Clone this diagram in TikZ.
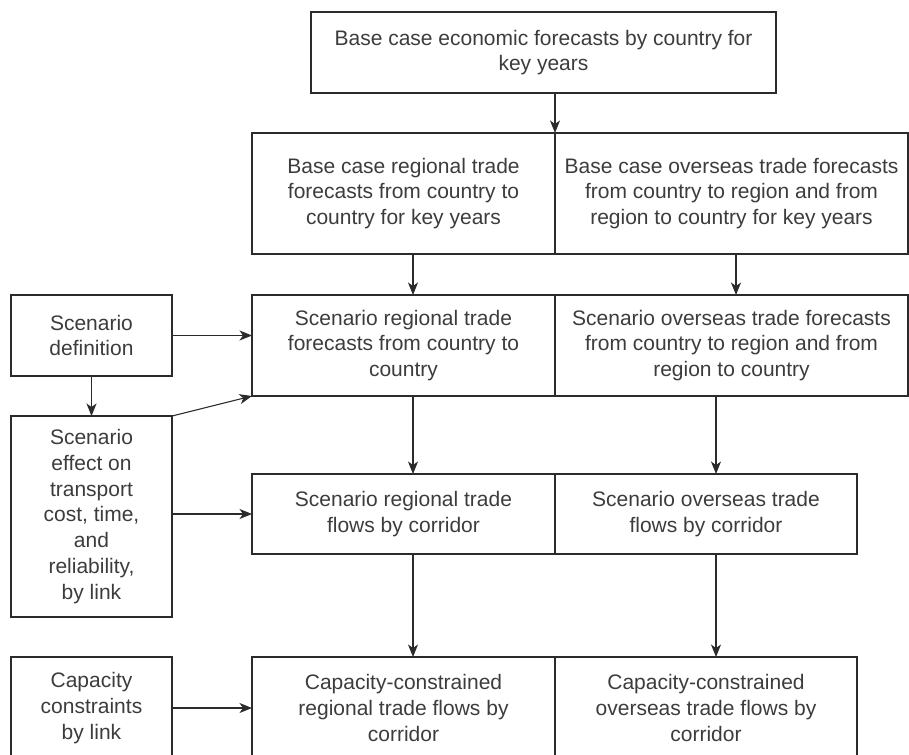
\documentclass[tikz,border=0pt]{standalone}
\usepackage{fontspec}
\setmainfont{Liberation Sans}
\usepackage{tikz}
\usetikzlibrary{arrows.meta,positioning,calc}

\definecolor{boxline}{HTML}{2B2B2B}
\definecolor{boxtext}{HTML}{3C3C3C}

\begin{document}
\begin{tikzpicture}
	[
	 x = 1pt,
	 y = -1pt,
	 every node/.style = {shape=rectangle,
		                  draw = boxline,
		                  line width = 1.1pt,
		                  align=center,
		                  text = boxtext,
		                  font=\fontsize{21}{25.7}\selectfont,
		                  inner sep = 0pt,
		                  outer sep = 0pt
                         },
    TOP/.style  = {minimum width = 465pt, minimum height = 81pt},
    MID/.style  = {minimum width = 303pt},
    WIDE/.style = {minimum width = 353pt},
    NARR/.style = {minimum width = 302pt},
    SIDE/.style = {minimum width = 161pt},
    FL/.style   = {-{Stealth[length=12.5pt,width=10pt,inset=3.5pt]},
    	           draw = boxline,
    	           line width = 1.1pt}
	]
	
	\newcommand{\BCE}{Base case economic forecasts by country for\\ key years}
	\newcommand{\BCR}{Base case regional trade\\ forecasts from country to\\
		country for key years}
	\newcommand{\BCO}{Base case overseas trade forecasts\\ from country to
		region and from\\ region to country for key years}
	\newcommand{\SCR}{Scenario regional trade\\ forecasts from country to\\
		country}
	\newcommand{\SCO}{Scenario overseas trade forecasts\\ from country to
		region and from\\ region to country}
	\newcommand{\SDEF}{Scenario\\ definition}
	\newcommand{\SEFF}{Scenario\\ effect on\\ transport\\ cost, time,\\ and\\
		reliability,\\ by link}
	\newcommand{\SFR}{Scenario regional trade\\ flows by corridor}
	\newcommand{\SFO}{Scenario overseas trade\\ flows by corridor}
	\newcommand{\CBL}{Capacity\\ constraints\\ by link}
	\newcommand{\CCR}{Capacity-constrained\\ regional trade flows by\\ corridor}
	\newcommand{\CCO}{Capacity-constrained\\ overseas trade flows by\\ corridor}

	\useasboundingbox (0,0) rectangle (909,754);
	\clip (0,0) rectangle (909,754);

	\node [TOP]                             (BE) at (543.5,52.5) {\BCE};
	\node [MID,  minimum height = 121pt]    (BR) at (403.5,193.5) {\BCR};
	\node [WIDE, minimum height = 121pt]    (BO) at (731.5,193.5) {\BCO};
	\node [MID,  minimum height = 101pt]    (SR) at (403.5,345.5) {\SCR};
	\node [WIDE, minimum height = 101pt]    (SO) at (731.5,345.5) {\SCO};
	\node [MID,  minimum height = 80pt]     (FR) at (403.5,514) {\SFR};
	\node [NARR, minimum height = 80pt]     (FO) at (706,514) {\SFO};
	\node [MID,  minimum height = 102pt]    (CR) at (403.5,708) {\CCR};
	\node [NARR, minimum height = 102pt]    (CO) at (706,708) {\CCO};
	\node [SIDE, minimum height = 81pt]     (SD) at (91.5,335.5) {\SDEF};
	\node [SIDE, minimum height = 201pt]    (SE) at (91.5,516.5) {\SEFF};
	\node [SIDE, minimum height = 102pt]    (CC) at (91.5,708) {\CBL};

	% down the two columns
	\draw [FL] (BE.south -| BR.east) -- (BR.north east);
	\draw [FL] ([xshift=9.5pt]BR.south) -- ([xshift=9.5pt]SR.north);
	\draw [FL] ([xshift=4.5pt]BO.south) -- ([xshift=4.5pt]SO.north);
	\draw [FL] ([xshift=9.5pt]SR.south) -- ([xshift=9.5pt]FR.north);
	\draw [FL] ([xshift=10pt]FO.north |- SO.south) -- ([xshift=10pt]FO.north);
	\draw [FL] ([xshift=9.5pt]FR.south) -- ([xshift=9.5pt]CR.north);
	\draw [FL] ([xshift=10pt]FO.south) -- ([xshift=10pt]CO.north);

	% inputs from the left
	\draw [FL] (SD.east) -- (SD.east -| SR.west);
	\draw [FL] (SD.south) -- (SE.north);
	\draw [FL] (SE.north east) -- (SR.south west);
	\draw [FL] (SE.east |- FR.west) -- (FR.west);
	\draw [FL] (CC.east) -- (CR.west);
\end{tikzpicture}
\end{document}
